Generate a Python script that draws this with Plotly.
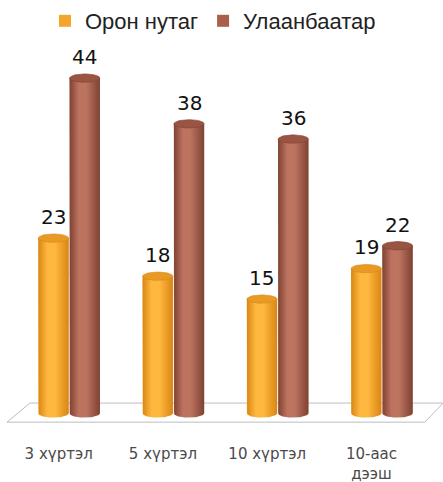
import numpy as np
import plotly.graph_objects as go

categories = ["3 хүртэл", "5 хүртэл", "10 хүртэл", "10-аас<br>дээш"]
series_names = ["Орон нутаг", "Улаанбаатар"]
rural = [23, 18, 15, 19]
ulaanbaatar = [44, 38, 36, 22]

colors = ["#F6A52C", "#A95F4A"]
grad_dark = ["#D98614", "#7F4232"]
grad_light = ["#FFB83F", "#BC7360"]
cap_colors = ["#E89A24", "#9A5542"]

fig = go.Figure()
values_list = [rural, ulaanbaatar]
offsets = [-0.15, 0.15]
half_w = 0.145
ry = 0.55

for s, (name, vals) in enumerate(zip(series_names, values_list)):
    fig.add_trace(go.Bar(
        x=list(range(len(categories))), y=vals, name=name,
        marker=dict(color=colors[s], line=dict(width=0)),
        width=0.29, offset=offsets[s] - half_w,
        hoverinfo="skip",
    ))

t_bot = np.linspace(np.pi, 2 * np.pi, 40)
t_full = np.linspace(0, 2 * np.pi, 60)
for i in range(len(categories)):
    for s in range(2):
        v = values_list[s][i]
        c = i + offsets[s]
        bx = c + half_w * np.cos(t_bot)
        by = 0 + ry * np.sin(t_bot)
        xs = [c - half_w] + list(bx) + [c + half_w, c - half_w]
        ys = [v] + list(by) + [v, v]
        fig.add_trace(go.Scatter(
            x=xs, y=ys, mode="lines", fill="toself", line=dict(width=0),
            fillgradient=dict(type="horizontal",
                              colorscale=[[0, grad_dark[s]], [0.3, grad_light[s]], [0.55, grad_light[s]], [1, grad_dark[s]]]),
            showlegend=False, hoverinfo="skip",
        ))
        fig.add_trace(go.Scatter(
            x=c + half_w * np.cos(t_full), y=v + ry * np.sin(t_full),
            mode="lines", fill="toself", line=dict(width=0.6, color=grad_dark[s]),
            fillcolor=cap_colors[s], showlegend=False, hoverinfo="skip",
        ))
        fig.add_annotation(x=c, y=v + ry, text=str(v), showarrow=False,
                           yanchor="bottom", yshift=3,
                           font=dict(family="DejaVu Sans", size=20, color="#111111"))

# floor
fig.add_shape(type="path", xref="paper", yref="paper",
              path="M 0.031 0.047 L 1.022 0.047 L 0.978 -0.003 L -0.024 -0.003 Z",
              line=dict(color="#BDBDBD", width=1), fillcolor="rgba(255,255,255,0)", layer="below")

fig.update_layout(
    width=443, height=482,
    margin=dict(l=17, r=9, t=40, b=61, autoexpand=False),
    plot_bgcolor="white", paper_bgcolor="white",
    barmode="overlay",
    showlegend=True,
    legend=dict(orientation="h", x=0.47, xanchor="center", yref="container", y=1.0, yanchor="top",
                font=dict(family="Liberation Sans", size=22, color="#222222"),
                itemwidth=30, traceorder="normal", tracegroupgap=0),
    xaxis=dict(range=[-0.5, 3.5], tickvals=[i - 0.1 for i in range(len(categories))], ticktext=categories,
               showgrid=False, zeroline=False, showline=False, ticks="",
               ticklabelstandoff=22,
               tickfont=dict(family="DejaVu Sans", size=15, color="#4A4A4A")),
    yaxis=dict(range=[-1, 49], visible=False, showgrid=False, zeroline=False),
)

fig.write_html("out.html", config={"displayModeBar": False},
               post_script="document.body.style.margin='0';document.body.style.padding='0';")
